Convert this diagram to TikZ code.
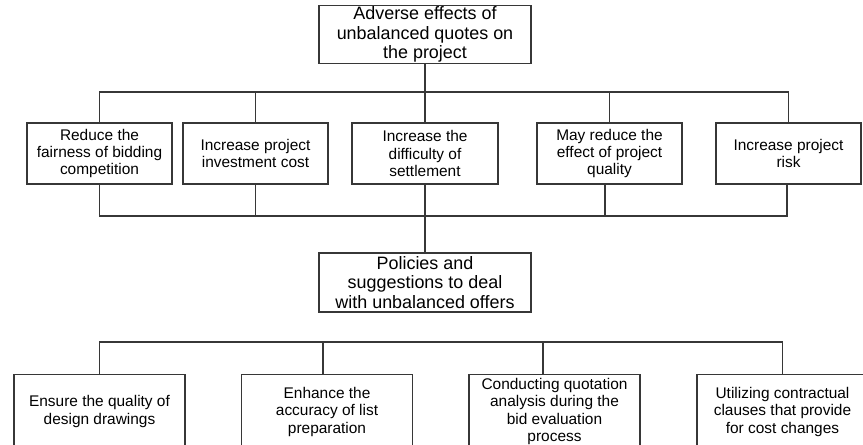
\documentclass[tikz,border=0pt]{standalone}
\usepackage{fontspec}
\setmainfont{Liberation Sans}
\usepackage{tikz}
\usetikzlibrary{positioning}
\definecolor{frame}{RGB}{55,55,55}

\begin{document}
\begin{tikzpicture}[x=1bp,y=-1bp,
          line width=1.2bp,draw=frame,
          block/.style={draw=frame,fill=white,align=center,inner sep=1bp,
                        font=\fontsize{15.5}{17.5}\selectfont},
          headbox/.style={block,minimum width=212bp,
                        font=\fontsize{18}{19.5}\selectfont},
          effect/.style={block,minimum width=145bp,minimum height=61bp},
          measure/.style={block,anchor=north,minimum width=171bp,minimum height=74bp}]
        \useasboundingbox (0,0) rectangle (863,445);
        \clip (0,0) rectangle (863,445);
        \node[headbox,minimum height=57bp] (adverse) at (425,34.5)
          {Adverse effects of\\unbalanced quotes on\\the project};
        \node[effect] (fair) at (99.5,153.5) {Reduce the\\fairness of bidding\\competition};
        \node[effect] (cost) at (255.5,153.5) {Increase project\\investment cost};
        \node[effect,minimum width=146bp] (settle) at (425,153.5) {Increase the\\difficulty of\\settlement};
        \node[effect] (quality) at (609.5,153.5) {May reduce the\\effect of project\\quality};
        \node[effect] (risk) at (788.5,153.5) {Increase project\\risk};
        \node[headbox,minimum height=59bp] (policy) at (425,282.5)
          {Policies and\\suggestions to deal\\with unbalanced offers};
        \node[measure] (design) at (99.5,374) {Ensure the quality of\\design drawings};
        \node[measure] (listprep) at (327,374) {Enhance the\\accuracy of list\\preparation};
        \node[measure] (bideval) at (554.5,374)
          {Conducting quotation\\analysis during the\\bid evaluation\\process};
        \node[measure] (clause) at (782.5,374) {Utilizing contractual\\clauses that provide\\for cost changes};
        \coordinate (upbus) at (425,92);
        \coordinate (lowbus) at (425,216);
        \coordinate (polbus) at (425,342);
        \draw (adverse) -- (settle);
        \draw (fair.north) |- (upbus) -| (risk.north);
        \draw (cost.north) -- (cost.north |- upbus);
        \draw (quality.north) -- (quality.north |- upbus);
        \draw (fair.south) |- (lowbus) -| ([xshift=-1.5bp]risk.south);
        \draw (cost.south) -- (cost.south |- lowbus);
        \draw ([xshift=-4.5bp]quality.south) -- ([xshift=-4.5bp]quality.south |- lowbus);
        \draw (settle) -- (policy);
        \draw (design.north) |- (polbus) -| (clause.north);
        \draw ([xshift=-4bp]listprep.north) -- ([xshift=-4bp]listprep.north |- polbus);
        \draw ([xshift=-11.5bp]bideval.north) -- ([xshift=-11.5bp]bideval.north |- polbus);
      \end{tikzpicture}
\end{document}
